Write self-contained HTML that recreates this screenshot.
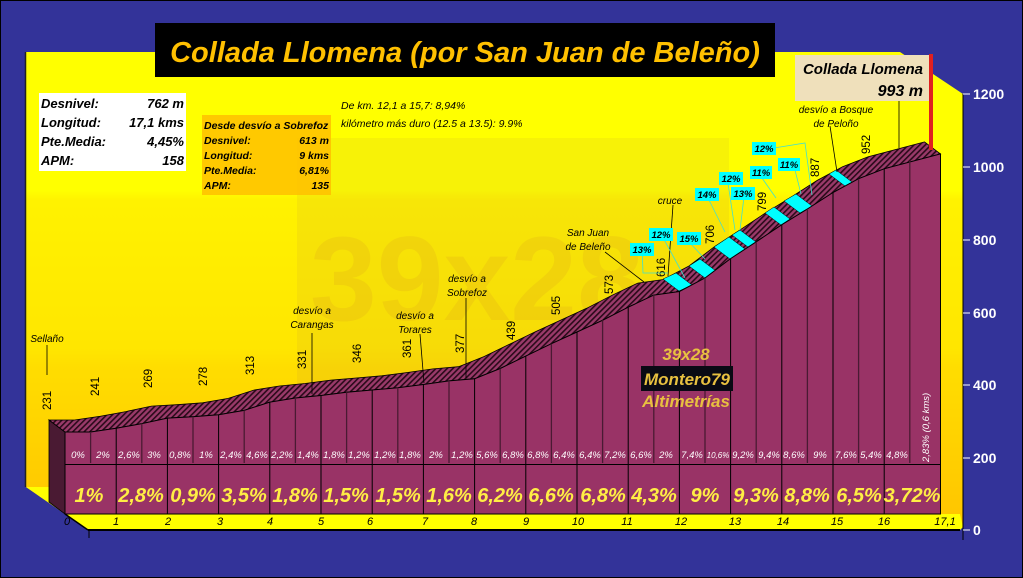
<!DOCTYPE html>
<html><head><meta charset="utf-8"><style>
body{margin:0;padding:0;background:#333399;}
svg{display:block}
text{font-family:"Liberation Sans",sans-serif}
.i{font-style:italic}
</style></head><body>
<svg width="1023" height="578" viewBox="0 0 1023 578" xmlns="http://www.w3.org/2000/svg">
<defs>
<linearGradient id="wall" x1="0" y1="0" x2="0" y2="1" gradientUnits="objectBoundingBox">
<stop offset="0" stop-color="#ffff00"/>
<stop offset="0.29" stop-color="#ffff00"/>
<stop offset="0.31" stop-color="#fff200"/>
<stop offset="0.62" stop-color="#ffe600"/>
<stop offset="0.66" stop-color="#ffdd00"/>
<stop offset="1" stop-color="#ffc400"/>
</linearGradient>
<pattern id="hatch" width="4" height="4" patternUnits="userSpaceOnUse" patternTransform="rotate(45)">
<rect width="4" height="4" fill="#9a3a6a"/>
<rect width="1.6" height="4" fill="#2a0a1a"/>
</pattern>
</defs>
<rect x="0" y="0" width="1023" height="578" fill="#333399" stroke="#000" stroke-width="2"/>
<polygon points="25,52 900,52 963,94 963,527 88,530 26,487" fill="url(#wall)"/>
<line x1="25.5" y1="52" x2="25.5" y2="487" stroke="#222" stroke-width="1.5"/>
<polygon points="26,487 49,487 65,514 960,514 963,527 960,530 88,530" fill="#ffff00"/>
<line x1="65" y1="514" x2="88" y2="530" stroke="#000" stroke-width="1.5"/>
<line x1="88" y1="530" x2="960" y2="530" stroke="#000" stroke-width="2"/>
<line x1="89" y1="530" x2="89" y2="538" stroke="#000"/>
<rect x="297" y="138" width="432" height="300" fill="#b08040" opacity="0.1"/>
<text x="310" y="320" font-size="120" font-weight="bold" fill="#b04040" opacity="0.08">39x28</text>
<line x1="963" y1="94" x2="963" y2="540" stroke="#000" stroke-width="1"/>
<g stroke="#fff" stroke-width="1">
<line x1="963" y1="94" x2="970" y2="94"/><line x1="963" y1="167" x2="970" y2="167"/><line x1="963" y1="240" x2="970" y2="240"/><line x1="963" y1="313" x2="970" y2="313"/><line x1="963" y1="385" x2="970" y2="385"/><line x1="963" y1="458" x2="970" y2="458"/><line x1="963" y1="530" x2="970" y2="530"/>
</g>
<g fill="#fff" font-size="14" font-weight="bold">
<text x="973" y="99">1200</text><text x="973" y="172">1000</text><text x="973" y="245">800</text><text x="973" y="318">600</text><text x="973" y="390">400</text><text x="973" y="463">200</text><text x="973" y="535">0</text>
</g>
<polygon points="49,420 65,432 65,514 49,502" fill="#4a1a33" stroke="#000" stroke-width="0.8"/>
<polygon fill="url(#hatch)" stroke="#000" stroke-width="0.8" points="65,432 90.6,432 116.2,428.3 141.8,423.6 167.4,418.1 193,416.7 218.6,414.8 244.2,410.4 269.8,402.1 295.4,398 321,395.5 346.6,392.2 372.2,390 397.8,387.8 423.4,384.5 449,380.9 474.6,378.7 500.2,368.5 525.8,356.1 551.4,343.7 577,332 602.6,320.3 628.2,307.2 653.8,295.1 679.4,291.5 705,278 730.6,258.6 756.2,241.8 781.8,224.7 807.4,209 833,192.5 858.6,178.7 884.2,168.8 940.5,153.9 924.5,141.9 868.2,156.8 842.6,166.7 817,180.5 791.4,197 765.8,212.7 740.2,229.8 714.6,246.6 689,266 663.4,279.5 637.8,283.1 612.2,295.2 586.6,308.3 561,320 535.4,331.7 509.8,344.1 484.2,356.5 458.6,366.7 433,368.9 407.4,372.5 381.8,375.8 356.2,378 330.6,380.2 305,383.5 279.4,386 253.8,390.1 228.2,398.4 202.6,402.8 177,404.7 151.4,406.1 125.8,411.6 100.2,416.3 74.6,420 49,420"/>
<g fill="#00ffff" stroke="#000" stroke-width="0.5">
<polygon points="679,291 692,285 676,273 663,279"/>
<polygon points="705,278 716,271 700,259 689,266"/>
<polygon points="730,259 745,249 729,237 714,247"/>
<polygon points="748,247 756,242 740,230 732,235"/>
<polygon points="781,225 790,219 774,207 765,213"/>
<polygon points="800,213 812,206 796,194 784,201"/>
<polygon points="845,186 852,182 836,170 829,174"/>
</g>
<polygon fill="#993366" stroke="#000" stroke-width="1" points="65,514 65,432 90.6,432 116.2,428.3 141.8,423.6 167.4,418.1 193,416.7 218.6,414.8 244.2,410.4 269.8,402.1 295.4,398 321,395.5 346.6,392.2 372.2,390 397.8,387.8 423.4,384.5 449,380.9 474.6,378.7 500.2,368.5 525.8,356.1 551.4,343.7 577,332 602.6,320.3 628.2,307.2 653.8,295.1 679.4,291.5 705,278 730.6,258.6 756.2,241.8 781.8,224.7 807.4,209 833,192.5 858.6,178.7 884.2,168.8 940.5,153.9 940.5,514"/>
<g stroke="#4a1a33" stroke-width="1.3">
<line x1="90.6" y1="432" x2="90.6" y2="463"/><line x1="141.8" y1="423.6" x2="141.8" y2="463"/><line x1="193" y1="416.7" x2="193" y2="463"/><line x1="244.2" y1="410.4" x2="244.2" y2="463"/><line x1="295.4" y1="398" x2="295.4" y2="463"/><line x1="346.6" y1="392.2" x2="346.6" y2="463"/><line x1="397.8" y1="387.8" x2="397.8" y2="463"/><line x1="449" y1="380.9" x2="449" y2="463"/><line x1="500.2" y1="368.5" x2="500.2" y2="463"/><line x1="551.4" y1="343.7" x2="551.4" y2="463"/><line x1="602.6" y1="320.3" x2="602.6" y2="463"/><line x1="653.8" y1="295.1" x2="653.8" y2="463"/><line x1="705" y1="278" x2="705" y2="463"/><line x1="756.2" y1="241.8" x2="756.2" y2="463"/><line x1="807.4" y1="209" x2="807.4" y2="463"/><line x1="858.6" y1="178.7" x2="858.6" y2="463"/><line x1="909.8" y1="160.7" x2="909.8" y2="463"/>
</g>
<g stroke="#000" stroke-width="1">
<line x1="116.2" y1="428.3" x2="116.2" y2="514"/><line x1="167.4" y1="418.1" x2="167.4" y2="514"/><line x1="218.6" y1="414.8" x2="218.6" y2="514"/><line x1="269.8" y1="402.1" x2="269.8" y2="514"/><line x1="321" y1="395.5" x2="321" y2="514"/><line x1="372.2" y1="390" x2="372.2" y2="514"/><line x1="423.4" y1="384.5" x2="423.4" y2="514"/><line x1="474.6" y1="378.7" x2="474.6" y2="514"/><line x1="525.8" y1="356.1" x2="525.8" y2="514"/><line x1="577" y1="332" x2="577" y2="514"/><line x1="628.2" y1="307.2" x2="628.2" y2="514"/><line x1="679.4" y1="291.5" x2="679.4" y2="514"/><line x1="730.6" y1="258.6" x2="730.6" y2="514"/><line x1="781.8" y1="224.7" x2="781.8" y2="514"/><line x1="833" y1="192.5" x2="833" y2="514"/><line x1="884.2" y1="168.8" x2="884.2" y2="514"/>
<line x1="65" y1="464.5" x2="940" y2="464.5"/>
</g>
<g fill="#fff" font-size="9.5" class="i" text-anchor="middle">
<text x="78" y="458">0%</text><text x="103" y="458">2%</text><text x="129" y="458">2,6%</text><text x="154" y="458">3%</text><text x="180" y="458">0,8%</text><text x="206" y="458">1%</text><text x="231" y="458">2,4%</text><text x="257" y="458">4,6%</text><text x="282" y="458">2,2%</text><text x="308" y="458">1,4%</text><text x="334" y="458">1,8%</text><text x="359" y="458">1,2%</text><text x="385" y="458">1,2%</text><text x="410" y="458">1,8%</text><text x="436" y="458">2%</text><text x="462" y="458">1,2%</text><text x="487" y="458">5,6%</text><text x="513" y="458">6,8%</text><text x="538" y="458">6,8%</text><text x="564" y="458">6,4%</text><text x="590" y="458">6,4%</text><text x="615" y="458">7,2%</text><text x="641" y="458">6,6%</text><text x="666" y="458">2%</text><text x="692" y="458">7,4%</text><text x="718" y="458" font-size="8">10,6%</text><text x="743" y="458">9,2%</text><text x="769" y="458">9,4%</text><text x="794" y="458">8,6%</text><text x="820" y="458">9%</text><text x="846" y="458">7,6%</text><text x="871" y="458">5,4%</text><text x="897" y="458">4,8%</text>
<text transform="translate(929,462) rotate(-90)" text-anchor="start">2,83% (0,6 kms)</text>
</g>
<g fill="#ffee44" font-size="20" font-weight="bold" class="i" text-anchor="middle">
<text x="89" y="502">1%</text><text x="141" y="502">2,8%</text><text x="193" y="502">0,9%</text><text x="244" y="502">3,5%</text><text x="295" y="502">1,8%</text><text x="346" y="502">1,5%</text><text x="398" y="502">1,5%</text><text x="449" y="502">1,6%</text><text x="500" y="502">6,2%</text><text x="551" y="502">6,6%</text><text x="603" y="502">6,8%</text><text x="654" y="502">4,3%</text><text x="705" y="502">9%</text><text x="756" y="502">9,3%</text><text x="807" y="502">8,8%</text><text x="859" y="502">6,5%</text><text x="912" y="502">3,72%</text>
</g>
<g fill="#000" font-size="11" class="i" text-anchor="middle">
<text x="67" y="525">0</text><text x="116" y="525">1</text><text x="168" y="525">2</text><text x="220" y="525">3</text><text x="270" y="525">4</text><text x="321" y="525">5</text><text x="370" y="525">6</text><text x="425" y="525">7</text><text x="474" y="525">8</text><text x="526" y="525">9</text><text x="578" y="525">10</text><text x="627" y="525">11</text><text x="681" y="525">12</text><text x="735" y="525">13</text><text x="783" y="525">14</text><text x="837" y="525">15</text><text x="884" y="525">16</text><text x="945" y="525">17,1</text>
</g>
<g fill="#000" font-size="11.5">
<text transform="translate(51,410) rotate(-90)">231</text>
<text transform="translate(99,396) rotate(-90)">241</text>
<text transform="translate(152,388) rotate(-90)">269</text>
<text transform="translate(207,386) rotate(-90)">278</text>
<text transform="translate(254,375) rotate(-90)">313</text>
<text transform="translate(306,369) rotate(-90)">331</text>
<text transform="translate(361,363) rotate(-90)">346</text>
<text transform="translate(411,358) rotate(-90)">361</text>
<text transform="translate(464,353) rotate(-90)">377</text>
<text transform="translate(515,340) rotate(-90)">439</text>
<text transform="translate(560,315) rotate(-90)">505</text>
<text transform="translate(613,294) rotate(-90)">573</text>
<text transform="translate(665,277) rotate(-90)">616</text>
<text transform="translate(714,244) rotate(-90)">706</text>
<text transform="translate(766,211) rotate(-90)">799</text>
<text transform="translate(819,177) rotate(-90)">887</text>
<text transform="translate(870,154) rotate(-90)">952</text>
</g>
<g stroke="#000" stroke-width="0.8">
<line x1="47" y1="345" x2="47" y2="375"/><line x1="312" y1="333" x2="312" y2="394"/><line x1="420" y1="334" x2="424" y2="383"/><line x1="466" y1="298" x2="466" y2="378"/><line x1="605" y1="252" x2="644" y2="282"/><line x1="673" y1="205" x2="668" y2="276"/><line x1="830" y1="126" x2="837" y2="172"/><line x1="899" y1="100" x2="899" y2="148"/>
</g>
<g fill="#000" font-size="10" class="i" text-anchor="middle">
<text x="47" y="342">Sellaño</text>
<text x="312" y="314">desvío a</text><text x="312" y="328">Carangas</text>
<text x="415" y="319">desvío a</text><text x="415" y="333">Torares</text>
<text x="467" y="282">desvío a</text><text x="467" y="296">Sobrefoz</text>
<text x="588" y="236">San Juan</text><text x="588" y="250">de Beleño</text>
<text x="670" y="204">cruce</text>
<text x="836" y="113">desvío a Bosque</text><text x="836" y="127">de Peloño</text>
</g>
<g stroke="#40e0d0" stroke-width="0.8" fill="none">
<polyline points="642,246 643,273 668,273"/><polyline points="660,232 685,278"/><polyline points="690,243 705,259"/><polyline points="708,198 725,232"/><polyline points="728,183 735,230"/><polyline points="744,197 740,230"/><polyline points="762,178 776,198"/><polyline points="774,148 805,143 812,195"/><polyline points="795,170 801,194"/>
</g>
<g font-size="9.5" font-weight="bold" class="i" text-anchor="middle" fill="#000">
<rect x="630" y="243" width="24" height="13" fill="#00ffff"/><text x="642" y="253">13%</text>
<rect x="649" y="228" width="24" height="13" fill="#00ffff"/><text x="661" y="238">12%</text>
<rect x="677" y="232" width="24" height="13" fill="#00ffff"/><text x="689" y="242">15%</text>
<rect x="695" y="188" width="24" height="13" fill="#00ffff"/><text x="707" y="198">14%</text>
<rect x="719" y="172" width="24" height="13" fill="#00ffff"/><text x="731" y="182">12%</text>
<rect x="731" y="187" width="24" height="13" fill="#00ffff"/><text x="743" y="197">13%</text>
<rect x="750" y="166" width="22" height="13" fill="#00ffff"/><text x="761" y="176">11%</text>
<rect x="752" y="142" width="24" height="13" fill="#00ffff"/><text x="764" y="152">12%</text>
<rect x="778" y="158" width="22" height="13" fill="#00ffff"/><text x="789" y="168">11%</text>
</g>
<g font-weight="bold" class="i" text-anchor="middle" font-size="17">
<text x="686" y="360" fill="#e8c040">39x28</text>
<rect x="641" y="366" width="92" height="25" fill="#0a0a14"/>
<text x="687" y="385" fill="#e8c040">Montero79</text>
<text x="686" y="407" fill="#e8c040">Altimetrías</text>
</g>
<rect x="155" y="23" width="620" height="54" fill="#000"/>
<text x="465" y="62" text-anchor="middle" font-size="29" font-weight="bold" font-style="italic" fill="#ffc000">Collada Llomena (por San Juan de Beleño)</text>
<rect x="795" y="55" width="135" height="46" fill="#efe0bb"/>
<rect x="929" y="54" width="4" height="96" fill="#e02020"/>
<text x="923" y="74" text-anchor="end" font-size="15" font-weight="bold" class="i" fill="#000">Collada Llomena</text>
<text x="923" y="96" text-anchor="end" font-size="16" font-weight="bold" class="i" fill="#000">993 m</text>
<rect x="39" y="93" width="147" height="78" fill="#fff"/>
<g font-size="13" font-weight="bold" class="i" fill="#000">
<text x="41" y="108">Desnivel:</text><text x="184" y="108" text-anchor="end">762 m</text>
<text x="41" y="127">Longitud:</text><text x="184" y="127" text-anchor="end">17,1 kms</text>
<text x="41" y="146">Pte.Media:</text><text x="184" y="146" text-anchor="end">4,45%</text>
<text x="41" y="165">APM:</text><text x="184" y="165" text-anchor="end">158</text>
</g>
<rect x="202" y="115" width="129" height="80" fill="#ffc000" opacity="0.85"/>
<g font-size="10.5" font-weight="bold" class="i" fill="#000">
<text x="204" y="129">Desde desvío a Sobrefoz</text>
<text x="204" y="144">Desnivel:</text><text x="329" y="144" text-anchor="end">613 m</text>
<text x="204" y="159">Longitud:</text><text x="329" y="159" text-anchor="end">9 kms</text>
<text x="204" y="174">Pte.Media:</text><text x="329" y="174" text-anchor="end">6,81%</text>
<text x="204" y="189">APM:</text><text x="329" y="189" text-anchor="end">135</text>
</g>
<g font-size="10.5" class="i" fill="#000">
<text x="341" y="109">De km. 12,1 a 15,7: 8,94%</text>
<text x="341" y="127">kilómetro más duro (12.5 a 13.5): 9.9%</text>
</g>
</svg>
</body></html>
